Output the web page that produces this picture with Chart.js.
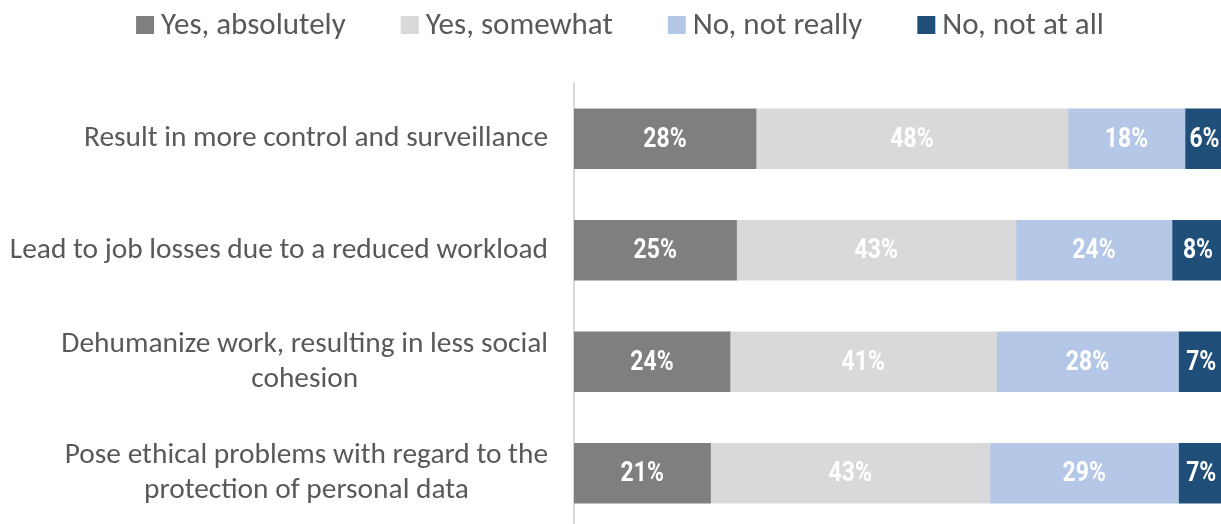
<!DOCTYPE html>
<html>
<head>
<meta charset="utf-8">
<script src="https://cdn.jsdelivr.net/npm/chart.js@4"></script>
<style>
  html, body { margin: 0; padding: 0; overflow: hidden; background: #fff; }
  #wrap { width: 1225px; height: 530px; }
</style>
</head>
<body>
<div id="wrap"><canvas id="chart"></canvas></div>
<script>
const categories = [
  'Result in more control and surveillance',
  'Lead to job losses due to a reduced workload',
  ['Dehumanize work, resulting in less social', 'cohesion'],
  ['Pose ethical problems with regard to the', 'protection of personal data']
];
const seriesNames = ['Yes, absolutely', 'Yes, somewhat', 'No, not really', 'No, not at all'];
const yesAbsolutely = [28, 25, 24, 21];
const yesSomewhat = [48, 43, 41, 43];
const noNotReally = [18, 24, 28, 29];
const noNotAtAll = [6, 8, 7, 7];
const colors = ['#7f7f7f', '#d9d9d9', '#b4c7e7', '#1f4e79'];

const textFont = 'Carlito, Lato, sans-serif';
const textColor = '#595959';

// white percentage labels centred in each segment
const valueLabels = {
  id: 'valueLabels',
  afterDatasetsDraw(chart) {
    const ctx = chart.ctx;
    ctx.save();
    ctx.font = 'bold 27px Roboto, sans-serif';
    ctx.fillStyle = '#ffffff';
    ctx.textAlign = 'center';
    ctx.textBaseline = 'middle';
    chart.data.datasets.forEach((ds, i) => {
      chart.getDatasetMeta(i).data.forEach((bar, j) => {
        const x = (bar.x + bar.base) / 2;
        ctx.save();
        ctx.translate(x, bar.y + 1);
        ctx.scale(0.85, 1);
        ctx.fillText(ds.data[j] + '%', 0, 0);
        ctx.restore();
      });
    });
    ctx.restore();
  }
};

// category labels: right edge at the axis, wrapped lines centred on each other
const categoryLabels = {
  id: 'categoryLabels',
  afterDraw(chart) {
    const ctx = chart.ctx;
    const y = chart.scales.y;
    const right = chart.chartArea.left - 26;
    const lineH = 35;
    ctx.save();
    ctx.font = '29.4px ' + textFont;
    ctx.fillStyle = textColor;
    ctx.textAlign = 'center';
    ctx.textBaseline = 'middle';
    categories.forEach((lab, i) => {
      const lines = Array.isArray(lab) ? lab : [lab];
      const w = Math.max(...lines.map(l => ctx.measureText(l).width));
      const cy = y.getPixelForValue(i) - (lines.length - 1) * lineH / 2;
      lines.forEach((l, k) => ctx.fillText(l, right - w / 2, cy + k * lineH));
    });
    ctx.restore();
  }
};

// legend row at the top, Office style: small square then text
const topLegend = {
  id: 'topLegend',
  afterDraw(chart) {
    const ctx = chart.ctx;
    const box = 18, gapBox = 7, gapItem = 55;
    ctx.save();
    ctx.font = '31px ' + textFont;
    ctx.textBaseline = 'middle';
    const widths = seriesNames.map(n => box + gapBox + ctx.measureText(n).width);
    const total = widths.reduce((a, b) => a + b, 0) + gapItem * (seriesNames.length - 1);
    let x = 620 - total / 2;
    const cy = 25;
    seriesNames.forEach((n, i) => {
      ctx.fillStyle = colors[i];
      ctx.fillRect(x, cy - box / 2, box, box);
      ctx.fillStyle = textColor;
      ctx.fillText(n, x + box + gapBox, cy + 1);
      x += widths[i] + gapItem;
    });
    ctx.restore();
  }
};

const seriesData = [yesAbsolutely, yesSomewhat, noNotReally, noNotAtAll];

new Chart(document.getElementById('chart'), {
  type: 'bar',
  data: {
    labels: categories,
    datasets: seriesNames.map((name, i) => ({
      label: name,
      data: seriesData[i],
      backgroundColor: colors[i],
      borderWidth: 0,
      barThickness: 60
    }))
  },
  options: {
    indexAxis: 'y',
    responsive: true,
    maintainAspectRatio: false,
    animation: false,
    layout: { padding: { top: 83, right: 1, bottom: 1, left: 0 } },
    scales: {
      x: {
        stacked: true,
        min: 0,
        max: 100,
        display: false
      },
      y: {
        stacked: true,
        grid: { display: false, drawTicks: false },
        border: { display: true, color: '#d9d9d9', width: 2 },
        ticks: { display: false },
        afterFit(scale) { scale.width = 574; }
      }
    },
    plugins: {
      legend: { display: false },
      tooltip: { enabled: false }
    }
  },
  plugins: [valueLabels, categoryLabels, topLegend]
});
</script>
</body>
</html>
